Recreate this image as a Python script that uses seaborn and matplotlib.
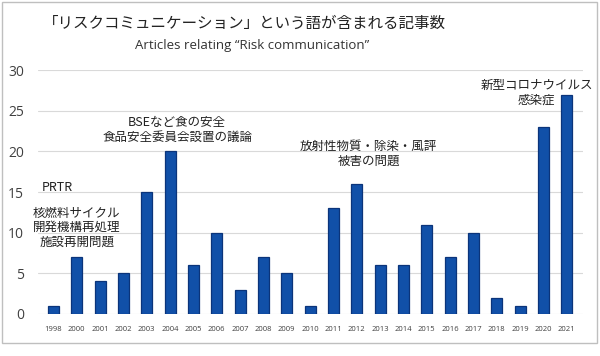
import pandas as pd
import matplotlib.pyplot as plt
import seaborn as sns
from matplotlib.patches import Rectangle

# Data
years = ['1998', '2000', '2001', '2002', '2003', '2004', '2005', '2006', '2007', '2008', '2009', '2010',
         '2011', '2012', '2013', '2014', '2015', '2016', '2017', '2018', '2019', '2020', '2021']
counts = [1, 7, 4, 5, 15, 20, 6, 10, 3, 7, 5, 1, 13, 16, 6, 6, 11, 7, 10, 2, 1, 23, 27]
y_ticks = [0, 5, 10, 15, 20, 25, 30]

title = '「リスクコミュニケーション」という語が含まれる記事数'
subtitle = 'Articles relating “Risk communication”'
# label text, x position (bar index), top y (data units)
notes = [
    ('核燃料サイクル\n開発機構再処理\n施設再開問題', 1.0, 13.2),
    ('BSEなど食の安全\n食品安全委員会設置の議論', 5.3, 24.3),
    ('放射性物質・除染・風評\n被害の問題', 13.5, 21.4),
    ('新型コロナウイルス\n感染症', 20.7, 28.9),
]

df = pd.DataFrame({'year': years, 'count': counts})

sns.set_style('white')
plt.rcParams['font.family'] = ['Noto Sans CJK JP', 'DejaVu Sans']

fig = plt.figure(figsize=(6, 3.56), dpi=100)
ax = fig.add_axes([0.063, 0.118, 0.909, 0.685])

sns.barplot(data=df, x='year', y='count', order=years, color='#1150a8', width=0.47,
            edgecolor='#0b347a', linewidth=0.9, saturation=1, ax=ax)

ax.set_ylim(0, 30)
ax.set_xlim(-0.67, 22.7)
ax.set_yticks(y_ticks)
ax.yaxis.grid(True, color='#d9d9d9', linewidth=0.8)
ax.set_axisbelow(True)
for s in ax.spines.values():
    s.set_visible(False)
ax.set_xlabel('')
ax.set_ylabel('')
ax.tick_params(axis='y', labelsize=10, colors='#404040', pad=10, length=0)
ax.tick_params(axis='x', labelsize=5.5, colors='#404040', pad=9, length=0)
for lab in ax.get_xticklabels() + ax.get_yticklabels():
    lab.set_family(['Open Sans', 'DejaVu Sans'])

# PRTR label sits left-aligned above the nuclear-cycle note
ax.text(-0.5, 16.3, 'PRTR', ha='left', va='top', fontsize=9, color='#222222')
for text, xpos, ypos in notes:
    ax.text(xpos, ypos, text, ha='center', va='top', fontsize=9, color='#222222',
            linespacing=1.15)

fig.text(0.408, 0.935, title, ha='center', va='center', fontsize=11.2, color='#222222')
fig.text(0.42, 0.873, subtitle, ha='center', va='center', fontsize=9.5, color='#333333',
         family=['Open Sans', 'DejaVu Sans'])

# Light frame around the chart
fig.patches.append(Rectangle((0.004, 0.037), 0.991, 0.958, transform=fig.transFigure,
                             fill=False, edgecolor='#bfbfbf', linewidth=1))

fig.savefig('out.png', dpi=100)
